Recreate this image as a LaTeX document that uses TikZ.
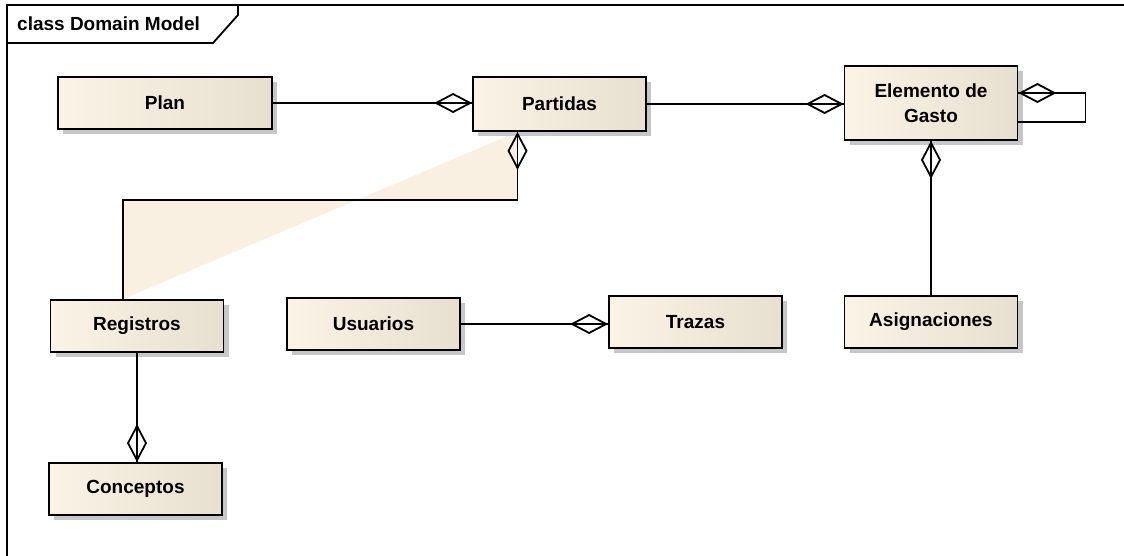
\documentclass[tikz,border=0pt]{standalone}
\usepackage{fontspec}
\setmainfont{Liberation Sans}
\usetikzlibrary{arrows.meta, shadows, backgrounds}

\definecolor{boxleft}{RGB}{251,244,230}
\definecolor{boxright}{RGB}{231,223,208}
\definecolor{wedge}{RGB}{250,240,225}

\tikzset{
  wire/.style={line width=1.8pt},
  classbox/.style={draw, line width=1.8pt, left color=boxleft, right color=boxright,
    minimum width=173pt, minimum height=52pt, inner sep=0pt, align=center,
    font=\fontsize{19}{25}\selectfont\bfseries,
    drop shadow={shadow xshift=5pt, shadow yshift=-5pt, fill=black!22, opacity=1}},
  agg/.style={wire, postaction={draw, -{Diamond[open, length=38pt, width=20pt]}}},
}

\begin{document}
\begin{tikzpicture}[x=1pt, y=-1pt]
  \useasboundingbox (0,0) rectangle (1124,556);
  % Frame and title tab:
  \draw[wire] (7,556) -- (7,5) -- (1124,5);
  \node[anchor=west, inner sep=0pt, font=\fontsize{19}{23}\selectfont\bfseries] (title) at (17,24) {class Domain Model};
  \draw[wire] (7,43) -- (213,43) -- (238,15) -- (238,5);

  % Classes:
  \node[classbox, minimum width=214pt] (plan) at (165,103) {Plan};
  \node[classbox, minimum height=54pt] (partidas) at (559.5,104) {Partidas};
  \node[classbox, minimum height=74pt] (elemento) at (931,103) {Elemento de\\Gasto};
  \node[classbox] (registros) at (137,326) {Registros};
  \node[classbox] (usuarios) at (373.5,324) {Usuarios};
  \node[classbox] (trazas) at (695.5,322) {Trazas};
  \node[classbox] (asignaciones) at (931,322) {Asignaciones};
  \node[classbox] (conceptos) at (135.5,489) {Conceptos};

  % Aggregations:
  \draw[agg] (plan.east) -- (plan.east -| partidas.west);
  \draw[agg] (partidas.east) -- (partidas.east -| elemento.west);
  \draw[agg] ([yshift=-19pt]elemento.east) -- ++(67,0) |- ([yshift=10pt]elemento.east);
  \draw[agg] (asignaciones.north) -- (asignaciones.north |- elemento.south);
  \draw[agg] ([xshift=-14pt]registros.north) -- ++(0,-99) -| ([xshift=-42pt]partidas.south);
  \draw[agg] (usuarios.east) -- (usuarios.east -| trazas.west);
  \draw[agg] (registros.south) -- (registros.south |- conceptos.north);

  \begin{scope}[on background layer]
    \fill[wedge] ([xshift=-14pt]registros.north) -- ++(0,-99) -| ([xshift=-42pt]partidas.south) -- cycle;
  \end{scope}
\end{tikzpicture}
\end{document}
